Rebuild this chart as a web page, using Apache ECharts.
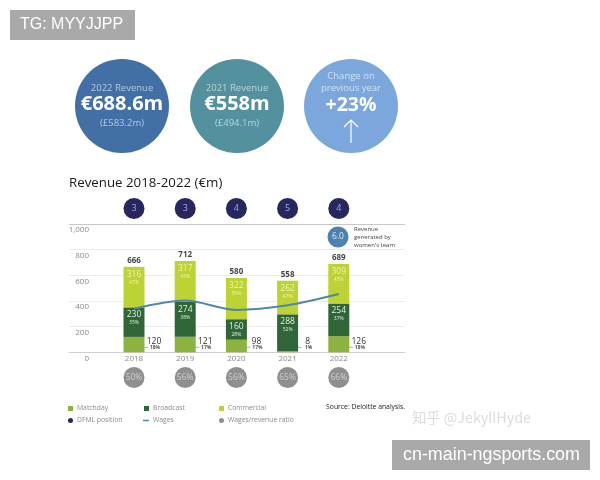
<!DOCTYPE html>
<html>
<head>
<meta charset="utf-8">
<style>
  html, body { margin: 0; padding: 0; background: #fff; }
  #chart { width: 600px; height: 480px; }
</style>
<script src="https://cdn.jsdelivr.net/npm/echarts@6/dist/echarts.min.js"></script>
</head>
<body>
<div id="chart"></div>
<script>
var years = ['2018', '2019', '2020', '2021', '2022'];
var totals = [666, 712, 580, 558, 689];
var matchday = [120, 121, 98, 8, 126];
var matchdayPct = ['18%', '17%', '17%', '1%', '18%'];
var broadcast = [230, 274, 160, 288, 254];
var broadcastPct = ['35%', '38%', '28%', '52%', '37%'];
var commercial = [316, 317, 322, 262, 309];
var commercialPct = ['47%', '45%', '55%', '47%', '45%'];
var wages = [340, 403, 330, 366, 454];
var dfmlPosition = [3, 3, 4, 5, 4];
var wageRatio = ['50%', '56%', '56%', '65%', '66%'];

var font = '"Open Sans", sans-serif';
var plotLeft = 108.4, plotWidth = 256;

function stackLabel(pcts, color) {
    return {
        show: true,
        position: 'insideTop',
        distance: 3,
        formatter: function (p) {
            return '{v|' + p.value + '}\n{p|' + pcts[p.dataIndex] + '}';
        },
        rich: {
            v: { fontFamily: font, fontSize: 8.5, color: color, lineHeight: 9 },
            p: { fontFamily: font, fontSize: 5, color: color, lineHeight: 7 }
        }
    };
}

// hidden axes for the circle rows, same categories as the bars
function hiddenX(gridIndex) {
    return { type: 'category', gridIndex: gridIndex, data: years, show: false };
}
function hiddenY(gridIndex) {
    return { type: 'value', gridIndex: gridIndex, min: 0, max: 1, show: false };
}

function rowCircles(name, gridIndex, labels, color, textColor, fontSize) {
    return {
        name: name,
        type: 'scatter',
        xAxisIndex: gridIndex,
        yAxisIndex: gridIndex,
        symbolSize: 21,
        itemStyle: { color: color, opacity: 1 },
        label: {
            show: true,
            position: 'inside',
            fontFamily: font,
            fontSize: fontSize,
            color: textColor,
            formatter: function (p) { return labels[p.dataIndex]; }
        },
        data: years.map(function () { return 0.5; })
    };
}

var legendItems = [
    { name: 'Matchday', left: 68, top: 405, icon: 'rect', w: 5, h: 5 },
    { name: 'Broadcast', left: 144, top: 405, icon: 'rect', w: 5, h: 5 },
    { name: 'Commercial', left: 219, top: 405, icon: 'rect', w: 5, h: 5 },
    { name: 'DFML position', left: 68, top: 417, icon: 'circle', w: 5, h: 5 },
    { name: 'Wages', left: 143, top: 417, icon: 'rect', w: 6, h: 1.5 },
    { name: 'Wages/revenue ratio', left: 219, top: 417, icon: 'circle', w: 5, h: 5 }
];

var kpis = [
    { cx: 122, color: '#4270a6', sub: '#b4c8e0', head: '2022 Revenue', big: '€688.6m', foot: '(£583.2m)' },
    { cx: 237, color: '#54919f', sub: '#b8d4da', head: '2021 Revenue', big: '€558m', foot: '(£494.1m)' }
];

function text(x, y, str, size, color, extra) {
    var style = { x: x, y: y, text: str, fontFamily: font, fontSize: size, fill: color, align: 'center', verticalAlign: 'middle' };
    for (var k in extra) { style[k] = extra[k]; }
    return { type: 'text', silent: true, z: 6, style: style };
}

var graphics = [
    { type: 'rect', shape: { x: 10, y: 10, width: 125, height: 30 }, style: { fill: '#a9a9a9' } },
    text(20, 25, 'TG: MYYJJPP', 16, '#fff', { align: 'left', fontFamily: '"Liberation Sans", sans-serif' }),
    { type: 'rect', shape: { x: 392, y: 440, width: 198, height: 30 }, style: { fill: '#a9a9a9' } },
    text(403, 455, 'cn-main-ngsports.com', 17.9, '#fff', { align: 'left', fontFamily: '"Liberation Sans", sans-serif' }),
    text(412, 418, '知乎 @JekyllHyde', 14.3, '#dcdcdc', { align: 'left', fontFamily: '"Noto Sans CJK SC", sans-serif' })
];

kpis.forEach(function (k) {
    graphics.push({ type: 'circle', shape: { cx: k.cx, cy: 106, r: 47 }, style: { fill: k.color } });
    graphics.push(text(k.cx, 88, k.head, 9.5, k.sub));
    graphics.push(text(k.cx, 104.5, k.big, 20, '#fff', { fontWeight: 'bold' }));
    graphics.push(text(k.cx, 123, k.foot, 9.5, k.sub));
});

graphics.push({ type: 'circle', shape: { cx: 351, cy: 106, r: 47 }, style: { fill: '#7ba7dc' } });
graphics.push(text(351, 76, 'Change on', 9.5, '#cfe0f4'));
graphics.push(text(351, 88, 'previous year', 9.5, '#cfe0f4'));
graphics.push(text(351, 105, '+23%', 19.5, '#fff', { fontWeight: 'bold' }));
graphics.push({ type: 'polyline', shape: { points: [[351, 143], [351, 120]] }, style: { stroke: '#fff', lineWidth: 1.2, fill: null } });
graphics.push({ type: 'polyline', shape: { points: [[344, 127], [351, 120], [358, 127]] }, style: { stroke: '#fff', lineWidth: 1.2, fill: null } });

graphics.push({ type: 'circle', z: 5, shape: { cx: 338, cy: 237, r: 10.5 }, style: { fill: '#4f81b0' } });
graphics.push(text(338, 237, '6.0', 8.5, '#d8e6f2'));
graphics.push(text(354, 229, 'Revenue', 6, '#444', { align: 'left' }));
graphics.push(text(354, 237, 'generated by', 6, '#444', { align: 'left' }));
graphics.push(text(354, 245, "women's team", 6, '#444', { align: 'left' }));
graphics.push(text(405, 407.5, 'Source: Deloitte analysis.', 6.8, '#222', { align: 'right' }));

var myChart = echarts.init(document.getElementById('chart'));
var option = {
    animation: false,
    backgroundColor: '#fff',
    title: {
        text: 'Revenue 2018-2022 (€m)',
        left: 69,
        top: 177,
        padding: 0,
        textStyle: { fontFamily: font, fontSize: 13.3, fontWeight: 500, color: '#1a1a1a' }
    },
    legend: legendItems.map(function (l) {
        return {
            left: l.left,
            top: l.top,
            padding: 0,
            itemWidth: l.w,
            itemHeight: l.h,
            itemGap: 0,
            selectedMode: false,
            textStyle: { fontFamily: font, fontSize: 6.8, color: '#8a8a8a', padding: [0, 0, 0, -1] },
            data: [{ name: l.name, icon: l.icon }]
        };
    }),
    grid: [
        // wide frame only carries the gridlines and value labels, bars use the plot grid on top of it
        { left: 69, width: 336, top: 224, height: 128.3 },
        { left: plotLeft, width: plotWidth, top: 224, height: 128.3 },
        { left: plotLeft, width: plotWidth, top: 198, height: 21 },
        { left: plotLeft, width: plotWidth, top: 367, height: 21 }
    ],
    xAxis: [
        {
            type: 'value',
            gridIndex: 0,
            min: 0,
            max: 1,
            splitLine: { show: false },
            axisTick: { show: false },
            axisLabel: { show: false },
            axisLine: { show: true, lineStyle: { color: '#cfcfcf' } }
        },
        {
            type: 'category',
            gridIndex: 1,
            data: years,
            axisLine: { show: false },
            axisTick: { show: false },
            axisLabel: {
                margin: 2,
                verticalAlign: 'top',
                fontFamily: font,
                fontSize: 8,
                color: '#8a8a8a'
            }
        },
        hiddenX(2),
        hiddenX(3)
    ],
    yAxis: [
        {
            type: 'value',
            gridIndex: 0,
            min: 0,
            max: 1000,
            interval: 200,
            axisLine: { show: false },
            axisTick: { show: false },
            splitLine: { lineStyle: { color: ['#cfcfcf', '#ececec', '#ececec', '#ececec', '#ececec', '#c8c8c8'] } },
            axisLabel: {
                inside: true,
                align: 'right',
                margin: 20,
                verticalAlign: 'top',
                padding: [2, 0, 0, 0],
                fontFamily: font,
                fontSize: 8,
                color: '#8a8a8a',
                formatter: function (v) { return v === 1000 ? '1,000' : String(v); }
            }
        },
        { type: 'value', gridIndex: 1, min: 0, max: 1000, show: false },
        hiddenY(2),
        hiddenY(3)
    ],
    graphic: graphics,
    series: [
        {
            name: 'Matchday',
            type: 'bar',
            xAxisIndex: 1,
            yAxisIndex: 1,
            stack: 'rev',
            barWidth: 21,
            itemStyle: { color: '#8db33f' },
            data: matchday
        },
        {
            name: 'Broadcast',
            type: 'bar',
            xAxisIndex: 1,
            yAxisIndex: 1,
            stack: 'rev',
            barWidth: 21,
            itemStyle: { color: '#2f6537' },
            label: stackLabel(broadcastPct, '#e4f0dc'),
            data: broadcast
        },
        {
            name: 'Commercial',
            type: 'bar',
            xAxisIndex: 1,
            yAxisIndex: 1,
            stack: 'rev',
            barWidth: 21,
            itemStyle: { color: '#bdd233' },
            label: stackLabel(commercialPct, '#eef3b8'),
            data: commercial
        },
        {
            name: 'Wages',
            type: 'line',
            xAxisIndex: 1,
            yAxisIndex: 1,
            smooth: 0.3,
            symbol: 'none',
            z: 5,
            itemStyle: { color: '#4f87a8' },
            lineStyle: { color: '#4f87a8', width: 2 },
            data: wages
        },
        {
            // totals above the stacks
            name: 'Total',
            type: 'scatter',
            xAxisIndex: 1,
            yAxisIndex: 1,
            symbolSize: 0,
            label: {
                show: true,
                position: 'top',
                distance: 2,
                fontFamily: font,
                fontSize: 8,
                fontWeight: 'bold',
                color: '#111',
                formatter: function (p) { return p.value; }
            },
            data: totals
        },
        {
            // matchday value and share sit beside the bar with a small dash
            name: 'MatchdayLabels',
            type: 'custom',
            xAxisIndex: 1,
            yAxisIndex: 1,
            encode: { x: 0, y: 1 },
            renderItem: function (params, api) {
                var i = params.dataIndex;
                var pt = api.coord([i, 0]);
                return {
                    type: 'group',
                    children: [
                        { type: 'line', shape: { x1: pt[0] + 6, y1: pt[1] - 5, x2: pt[0] + 14, y2: pt[1] - 5 }, style: { stroke: '#9a9a9a', lineWidth: 0.8 } },
                        { type: 'text', style: { x: pt[0] + 20, y: pt[1] - 11, text: String(matchday[i]), align: 'center', verticalAlign: 'middle', fontFamily: font, fontSize: 8.5, fill: '#333' } },
                        { type: 'text', style: { x: pt[0] + 21, y: pt[1] - 5, text: matchdayPct[i], align: 'center', verticalAlign: 'middle', fontFamily: font, fontSize: 5, fontWeight: 'bold', fill: '#555' } }
                    ]
                };
            },
            data: years.map(function (y, i) { return [i, 0]; })
        },
        rowCircles('DFML position', 2, dfmlPosition, '#27265f', '#a9a9dc', 9),
        rowCircles('Wages/revenue ratio', 3, wageRatio, '#8f8f8f', '#cfcfcf', 8.5)
    ]
};
myChart.setOption(option, true);
window.addEventListener('resize', function () {
    myChart.resize();
});
</script>
</body>
</html>
